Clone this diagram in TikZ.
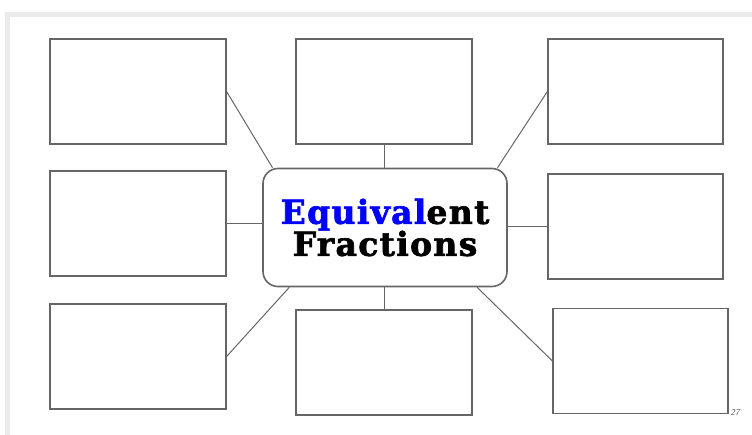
\documentclass[tikz,border=0pt]{standalone}
\usepackage{fontspec}
\usepackage{xcolor}
\usepackage{tikz}
\newfontfamily\slabfont[LetterSpace=4, BoldFeatures={FakeBold=2}]{DejaVu Serif}
\definecolor{framegrey}{HTML}{EBEBEB}
\definecolor{linegrey}{HTML}{666666}
\definecolor{eqblue}{HTML}{0000FF}

\begin{document}
\begin{tikzpicture}[x=1pt, y=-1pt,
      box/.style={rectangle, draw=linegrey, line width=1.2pt, minimum width=176pt, minimum height=105pt, inner sep=0pt},
      hub/.style={rectangle, rounded corners=15pt, draw=linegrey, line width=1.6pt, minimum width=244pt, minimum height=118pt, align=center, inner sep=0pt, font=\slabfont\bfseries\fontsize{33}{32}\selectfont},
      link/.style={draw=linegrey, line width=1pt}]
    \useasboundingbox (0,0) rectangle (752,435);
    \fill[white] (0,0) rectangle (752,435);
    \fill[framegrey] (5,12) rectangle (752,17);
    \fill[framegrey] (5,12) rectangle (10,435);
    \node[box] (tl) at (138,91.5) {};
    \node[box] (tm) at (384,91.5) {};
    \node[box, minimum width=175pt] (tr) at (635.5,91.5) {};
    \node[box] (ml) at (138,223.5) {};
    \node[box, minimum width=175pt] (mr) at (635.5,226.5) {};
    \node[box] (bl) at (138,356.5) {};
    \node[box] (bm) at (384,362.5) {};
    \node[box, minimum width=175pt] (br) at (640.5,361) {};
    \node[hub] (eq) at (385,227.5) {\textcolor{eqblue}{Equival}ent\\Fractions};
    \draw[link] (tl.east) -- (eq.152);
    \draw[link] (tm.south) -- (tm.south |- eq.north);
    \draw[link] (tr.west) -- (eq.28);
    \draw[link] (ml.east) -- (ml.east -| eq.west);
    \draw[link] (mr.west) -- (mr.west -| eq.east);
    \draw[link] (bl.east) -- (eq.212);
    \draw[link] (bm.north) -- (bm.north |- eq.south);
    \draw[link] (br.west) -- (eq.-33);
    \node[font=\sffamily\itshape\fontsize{9}{9}\selectfont, text=linegrey, inner sep=0pt] (page) at (735,413) {27};
\end{tikzpicture}
\end{document}
